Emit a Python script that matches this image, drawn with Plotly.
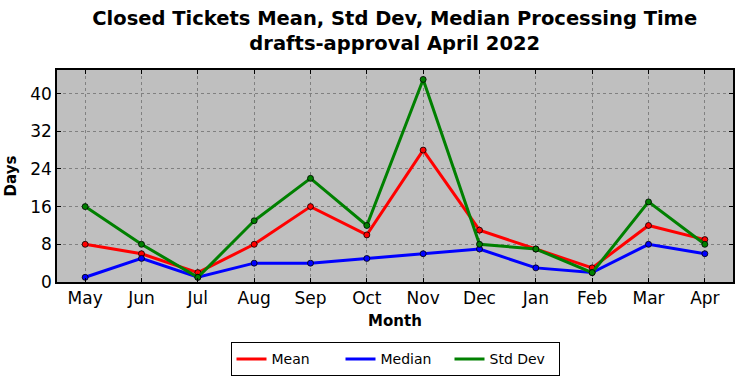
import plotly.graph_objects as go

months = ["May", "Jun", "Jul", "Aug", "Sep", "Oct", "Nov", "Dec", "Jan", "Feb", "Mar", "Apr"]
mean_vals = [8, 6, 2, 8, 16, 10, 28, 11, 7, 3, 12, 9]
median_vals = [1, 5, 1, 4, 4, 5, 6, 7, 3, 2, 8, 6]
std_vals = [16, 8, 1, 13, 22, 12, 43, 8, 7, 2, 17, 8]
y_ticks = [0, 8, 16, 24, 32, 40]

x_idx = list(range(len(months)))
series = [("Mean", mean_vals, "red"), ("Median", median_vals, "blue"), ("Std Dev", std_vals, "green")]
fig = go.Figure()
for name, vals, col in series:
    fig.add_trace(go.Scatter(
        x=x_idx, y=vals, name=name, mode="lines+markers", showlegend=False,
        line=dict(color=col, width=3),
        marker=dict(size=6, color=col, line=dict(color="black", width=0.8)),
    ))
for name, vals, col in series:
    fig.add_trace(go.Scatter(
        x=[None], y=[None], name=name, mode="lines", showlegend=True,
        line=dict(color=col, width=3),
    ))

font = "DejaVu Sans"
fig.update_layout(
    width=742, height=378,
    margin=dict(l=57, r=9, t=70, b=96, autoexpand=False),
    paper_bgcolor="white", plot_bgcolor="#bfbfbf",
    font=dict(family=font, color="black"),
    title=dict(text="<b>Closed Tickets Mean, Std Dev, Median Processing Time<br>drafts-approval April 2022</b>",
               x=0.532, xanchor="center", y=1 - 24.5 / 378, yanchor="middle", font=dict(size=19.5, family=font)),
    showlegend=True,
    legend=dict(orientation="h", x=0.5, xanchor="center", y=-0.285, yanchor="top",
                bordercolor="black", borderwidth=1, bgcolor="white",
                font=dict(size=14, family=font), entrywidth=64, tracegroupgap=0),
)
fig.update_xaxes(
    range=[-0.5, 11.5], tickmode="array", tickvals=x_idx, ticktext=months,
    showgrid=True, gridcolor="#808080", griddash="dot", gridwidth=1,
    showline=True, linecolor="black", linewidth=1.5, mirror="allticks",
    ticks="inside", ticklen=4, tickcolor="black", automargin=False,
    tickfont=dict(size=17, family=font), zeroline=False,
    title=dict(text="<b>Month</b>", font=dict(size=15, family=font), standoff=8),
)
fig.update_yaxes(
    range=[0, 45], tickmode="array", tickvals=y_ticks,
    showgrid=True, gridcolor="#808080", griddash="dot", gridwidth=1,
    showline=True, linecolor="black", linewidth=1.5, mirror="allticks",
    ticks="inside", ticklen=4, tickcolor="black", automargin=False,
    tickfont=dict(size=17, family=font), zeroline=False,
    title=dict(text="<b>Days</b>", font=dict(size=15, family=font), standoff=10),
)
fig.write_html("out.html", config={"displayModeBar": False},
               post_script="document.body.style.margin='0';")
